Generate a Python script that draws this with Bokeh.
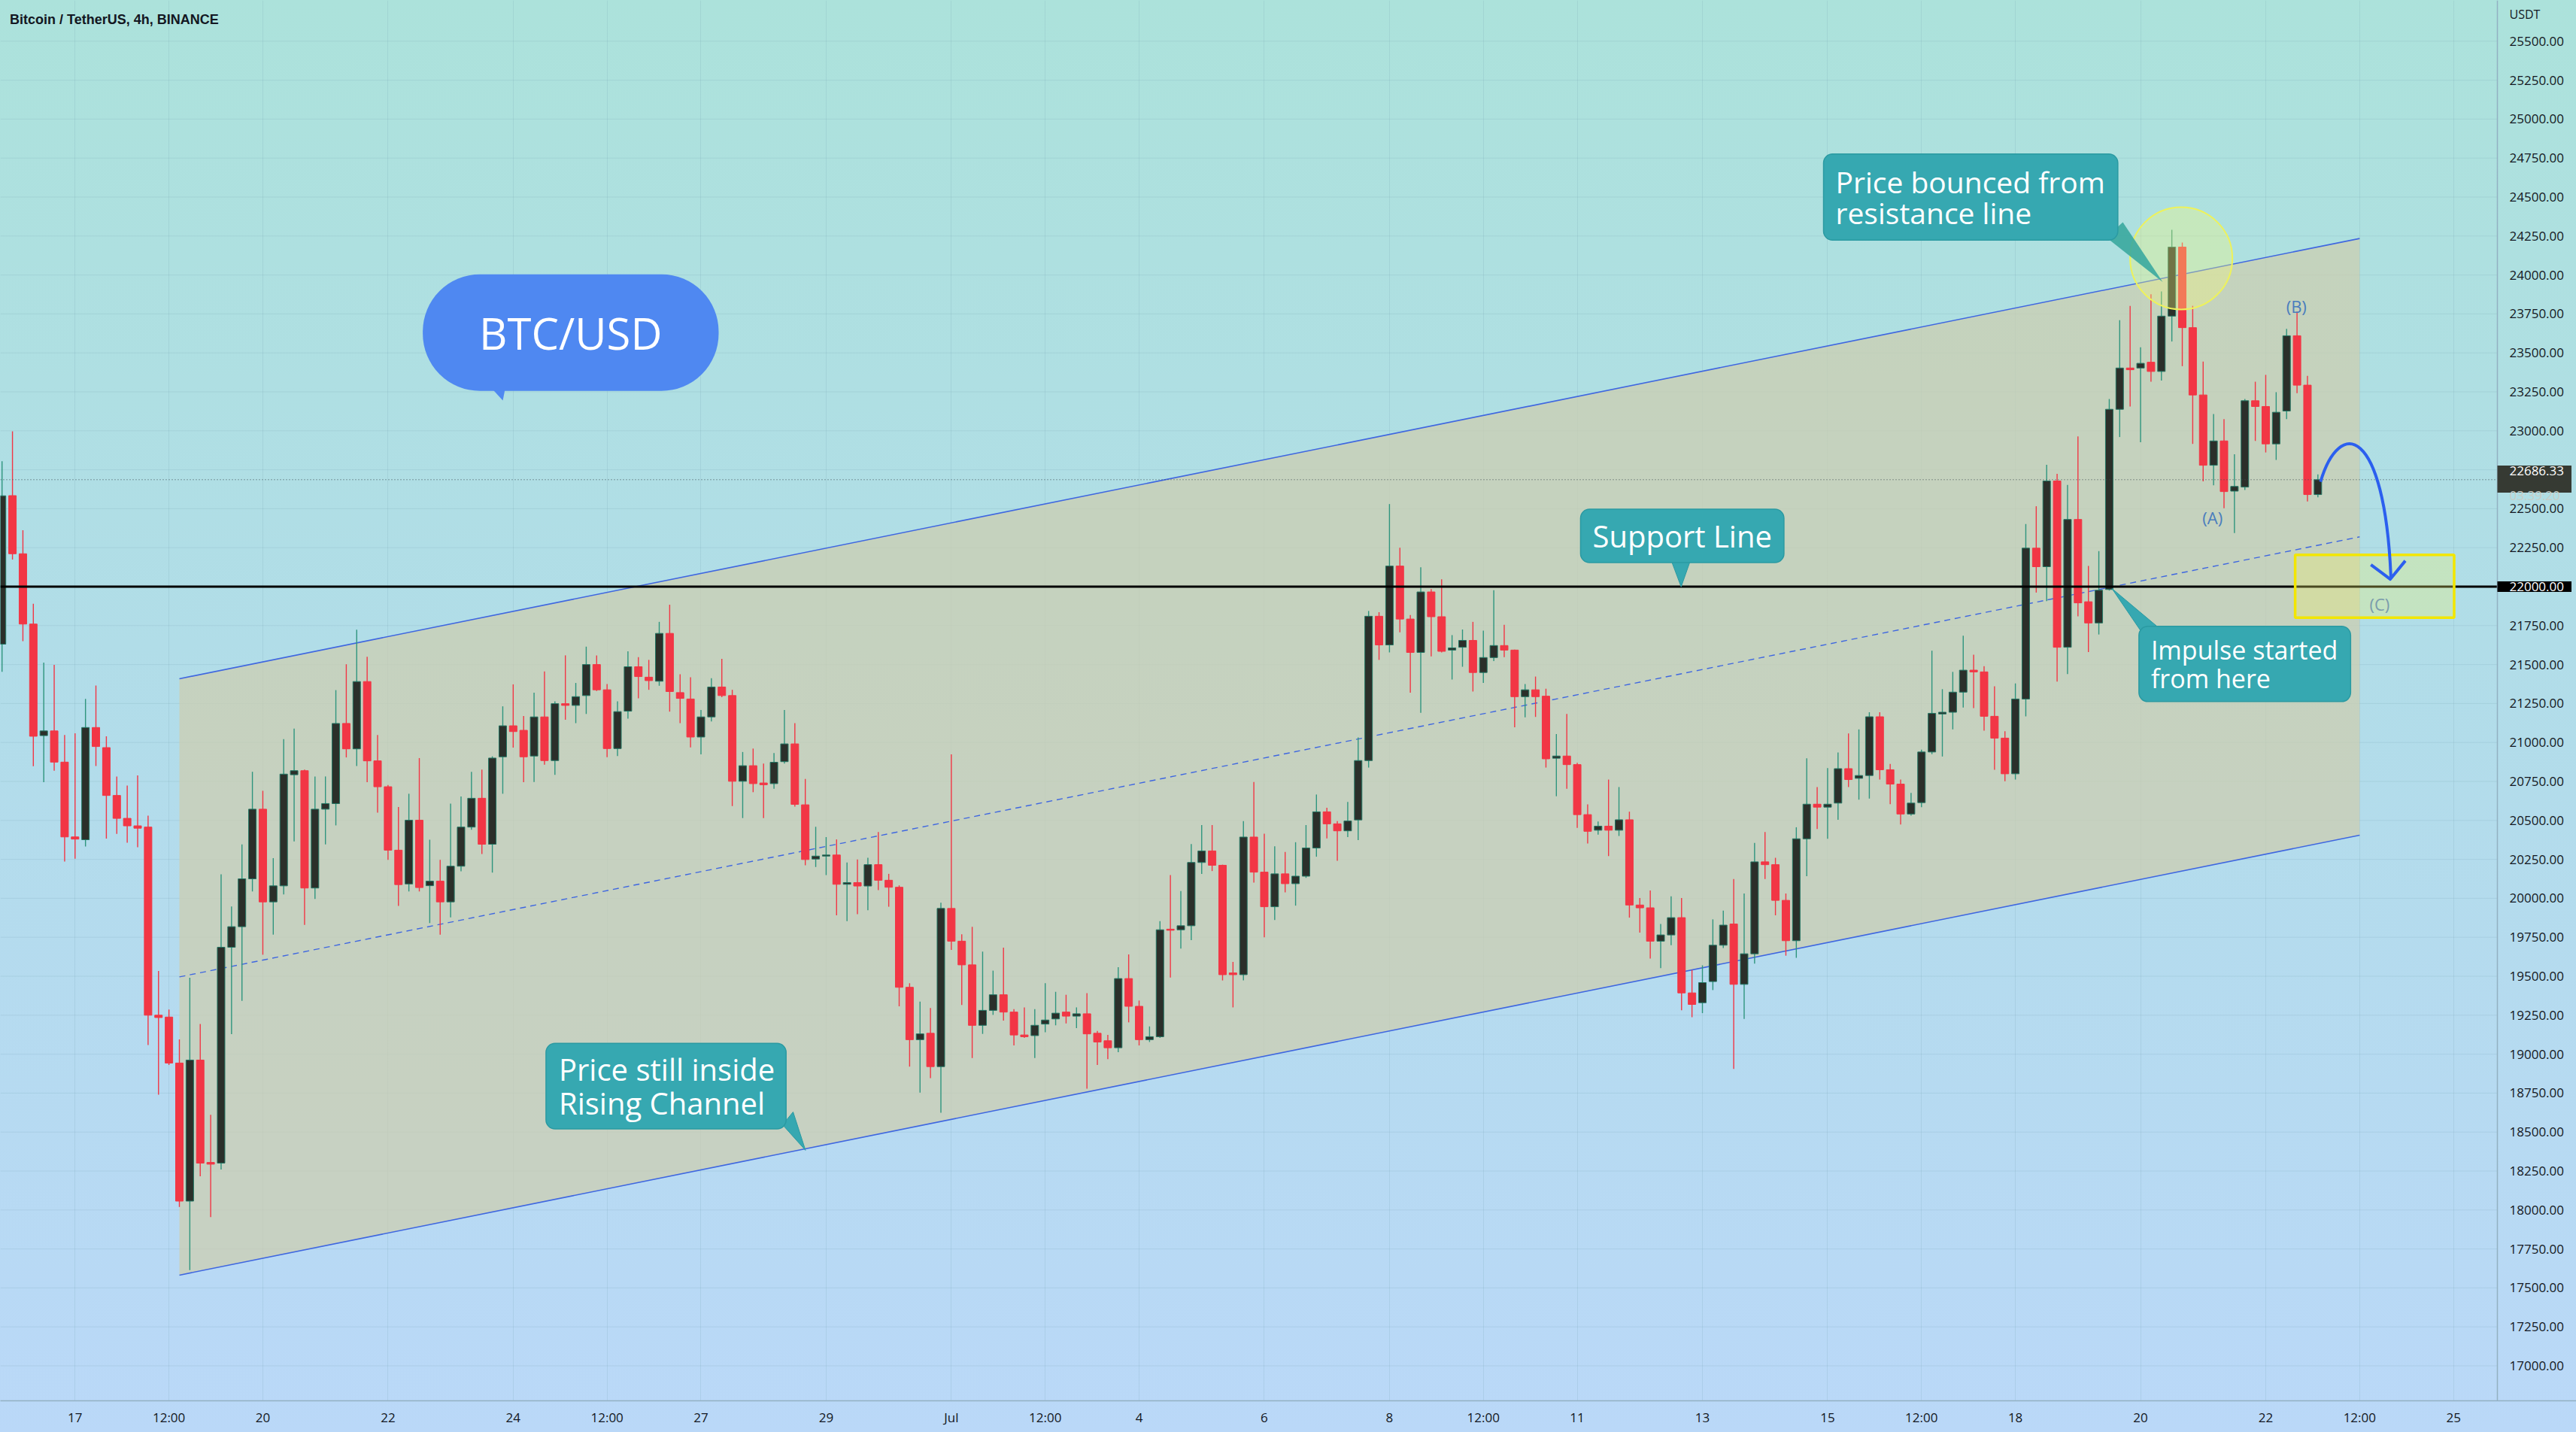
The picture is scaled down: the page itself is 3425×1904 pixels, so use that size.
import pandas as pd
from bokeh.plotting import figure
from bokeh.models import ColumnDataSource, FixedTicker, Range1d, Label, Span, PrintfTickFormatter
from bokeh.embed import file_html
from bokeh.resources import INLINE

# ---------------- data ----------------
bar_start = "2022-06-15 20:00"   # first 4h candle
axis_origin = "2022-06-17 00:00"  # x = days since this moment

opens = [
    21631, 22584, 22211, 21760, 21044, 21074, 20874, 20394, 20376, 21096,
    20967, 20660, 20513, 20465, 20457, 19250, 19238, 18943, 18057, 18962,
    18305, 18301, 19686, 19818, 20125, 20572, 19977, 20080, 20793, 20819,
    20066, 20572, 20608, 21122, 20959, 21391, 20882, 20716, 20309, 20092,
    20501, 20081, 20110, 19977, 20206, 20457, 20642, 20347, 20908, 21107,
    21078, 20913, 21164, 20884, 21249, 21238, 21301, 21500, 21338, 20961,
    21201, 21486, 21419, 21393, 21700, 21320, 21279, 21035, 21164, 21356,
    21301, 20751, 20851, 20740, 20736, 20877, 20991, 20600, 20252, 20271,
    20278, 20090, 20101, 20079, 20216, 20116, 20071, 19429, 19093, 19134,
    18920, 19935, 19725, 19573, 19185, 19281, 19381, 19270, 19123, 19119,
    19193, 19226, 19270, 19244, 19259, 19134, 19086, 19041, 19485, 19307,
    19093, 19112, 19802, 19798, 19824, 20230, 20304, 20212, 19521, 19510,
    20393, 20168, 19946, 20157, 20094, 20142, 20323, 20555, 20478, 20433,
    20503, 20884, 21810, 21626, 22132, 21792, 21578, 21966, 21807, 21593,
    21611, 21655, 21449, 21545, 21622, 21593, 21294, 21338, 21297, 20899,
    20913, 20858, 20537, 20437, 20463, 20437, 20504, 19957, 19939, 19725,
    19765, 19876, 19393, 19330, 19466, 19699, 19835, 19448, 19644, 20234,
    20216, 19987, 19728, 20382, 20604, 20585, 20611, 20832, 20770, 20788,
    21165, 20825, 20733, 20541, 20614, 20939, 21183, 21194, 21323, 21464,
    21453, 21168, 21028, 20799, 21279, 22247, 22128, 22678, 21611, 22431,
    21903, 21767, 21982, 23138, 23403, 23403, 23440, 23381, 23736, 24179,
    23662, 23230, 22779, 22935, 22613, 22639, 23193, 23156, 22916, 23127,
    23610, 23293, 22591,
]
highs = [
    22805, 22997, 22362, 21890, 21513, 21498, 21048, 21059, 21280, 21365,
    21040, 20782, 20723, 20789, 20531, 19534, 19287, 19095, 19490, 19194,
    18611, 20154, 19948, 20346, 20812, 20690, 20258, 21022, 21089, 20826,
    20782, 20782, 21336, 21502, 21724, 21550, 21048, 20727, 20586, 20671,
    20900, 20376, 20247, 20608, 20653, 20812, 20826, 20911, 21232, 21373,
    21170, 21319, 21456, 21264, 21559, 21382, 21615, 21559, 21375, 21264,
    21585, 21548, 21530, 21774, 21884, 21438, 21419, 21209, 21412, 21537,
    21338, 20939, 20961, 20865, 20932, 21209, 21124, 20766, 20459, 20393,
    20378, 20230, 20249, 20260, 20426, 20157, 20083, 19455, 19337, 19296,
    19972, 20924, 19769, 19817, 19658, 19536, 19684, 19289, 19300, 19289,
    19455, 19400, 19381, 19300, 19392, 19149, 19123, 19558, 19640, 19344,
    19178, 19854, 20149, 20046, 20348, 20470, 20470, 20216, 19592, 20496,
    20747, 20415, 20334, 20297, 20360, 20470, 20666, 20581, 20496, 20618,
    21032, 21844, 21836, 22530, 22250, 21818, 22124, 21984, 22047, 21689,
    21725, 21774, 21718, 21977, 21755, 21596, 21375, 21423, 21345, 21054,
    21183, 20870, 20603, 20493, 20762, 20714, 20556, 20002, 20050, 19836,
    20013, 20002, 19540, 19570, 19865, 19921, 20124, 20031, 20356, 20426,
    20260, 20031, 20456, 20899, 20714, 20836, 20936, 21058, 21084, 21194,
    21194, 20862, 20762, 20677, 20954, 21589, 21342, 21453, 21685, 21563,
    21490, 21360, 21072, 21379, 22402, 22516, 22782, 22724, 22653, 22964,
    22133, 22228, 23204, 23710, 23802, 23536, 23876, 23894, 24290, 24208,
    23802, 23444, 23108, 23075, 22850, 23204, 23315, 23359, 23248, 23654,
    23765, 23352, 22720,
]
lows = [
    21454, 22174, 21650, 20848, 20745, 20819, 20236, 20254, 20332, 20849,
    20383, 20413, 20357, 20328, 19058, 18740, 18930, 18020, 17614, 18216,
    17954, 18260, 19128, 19342, 20044, 19638, 19767, 20025, 20365, 19830,
    19996, 20346, 20468, 20904, 20849, 20745, 20550, 20247, 19951, 20044,
    20044, 19841, 19767, 19878, 20173, 20440, 20284, 20165, 20671, 20967,
    20745, 20747, 20858, 20792, 21146, 21124, 21183, 21330, 20906, 20913,
    21153, 21283, 21338, 21364, 21198, 21124, 20969, 20924, 21135, 21290,
    20592, 20515, 20681, 20515, 20703, 20865, 20588, 20212, 20201, 20149,
    19891, 19854, 19898, 19924, 20053, 19946, 19307, 18920, 18753, 18846,
    18624, 19669, 19315, 18975, 19130, 19252, 19215, 19056, 19104, 18975,
    19141, 19185, 19197, 19167, 18779, 18931, 18968, 19012, 19204, 19056,
    19078, 19104, 19492, 19677, 19732, 20157, 20175, 19473, 19300, 19473,
    20101, 19750, 19861, 20038, 19953, 20131, 20267, 20385, 20241, 20393,
    20374, 20839, 21530, 21578, 21707, 21319, 21190, 21552, 21578, 21404,
    21486, 21327, 21382, 21522, 21548, 21098, 21161, 21164, 20839, 20655,
    20703, 20452, 20352, 20408, 20271, 20400, 19876, 19780, 19614, 19552,
    19699, 19282, 19237, 19263, 19411, 19681, 18905, 19226, 19581, 20124,
    19891, 19632, 19618, 20142, 20445, 20382, 20504, 20714, 20633, 20640,
    20762, 20604, 20474, 20530, 20585, 20925, 20910, 21084, 21224, 21220,
    21076, 20825, 20751, 20762, 21168, 21962, 21907, 21391, 21439, 21809,
    21580, 21693, 21975, 22960, 23156, 22927, 23315, 23322, 23573, 23415,
    22916, 22676, 22650, 22503, 22344, 22620, 22935, 22861, 22813, 23075,
    23241, 22547, 22573,
]
closes = [
    22583, 22211, 21760, 21040, 21074, 20874, 20394, 20380, 21096, 20974,
    20660, 20513, 20465, 20450, 19250, 19235, 18943, 18057, 18962, 18301,
    18294, 19686, 19818, 20125, 20572, 19977, 20080, 20797, 20819, 20066,
    20572, 20608, 21122, 20959, 21391, 20882, 20716, 20309, 20088, 20501,
    20069, 20110, 19977, 20206, 20457, 20642, 20347, 20900, 21107, 21070,
    20908, 21164, 20884, 21249, 21238, 21294, 21500, 21338, 20961, 21198,
    21486, 21423, 21397, 21700, 21327, 21283, 21035, 21164, 21356, 21301,
    20751, 20851, 20736, 20729, 20873, 20991, 20603, 20249, 20271, 20278,
    20090, 20101, 20079, 20216, 20116, 20071, 19429, 19093, 19130, 18920,
    19935, 19725, 19573, 19185, 19281, 19381, 19270, 19123, 19112, 19185,
    19219, 19263, 19244, 19259, 19130, 19078, 19041, 19485, 19307, 19093,
    19112, 19798, 19795, 19824, 20230, 20304, 20212, 19510, 19510, 20393,
    20168, 19946, 20157, 20094, 20142, 20323, 20555, 20478, 20433, 20496,
    20884, 21810, 21626, 22132, 21792, 21578, 21966, 21807, 21585, 21607,
    21655, 21449, 21545, 21622, 21593, 21294, 21338, 21294, 20895, 20913,
    20858, 20537, 20430, 20463, 20437, 20504, 19957, 19939, 19725, 19765,
    19876, 19393, 19319, 19459, 19699, 19828, 19448, 19644, 20234, 20216,
    19987, 19728, 20382, 20604, 20585, 20604, 20832, 20762, 20788, 21165,
    20825, 20733, 20541, 20611, 20939, 21187, 21194, 21323, 21464, 21453,
    21168, 21028, 20799, 21279, 22247, 22128, 22678, 21611, 22431, 21896,
    21767, 21977, 23138, 23403, 23392, 23433, 23381, 23736, 24179, 23662,
    23230, 22779, 22935, 22610, 22643, 23193, 23156, 22916, 23119, 23610,
    23293, 22591, 22686.33,
]

last_price = 22686.33
countdown = "03:39:20"
support_level = 22000

x_ticks = [0, 1.5, 3, 5, 7, 8.5, 10, 12, 14, 15.5, 17, 19, 21, 22.5, 24, 26, 28, 29.5, 31, 33, 35, 36.5, 38]
x_tick_labels = ["17", "12:00", "20", "22", "24", "12:00", "27", "29", "Jul", "12:00", "4", "6",
                 "8", "12:00", "11", "13", "15", "12:00", "18", "20", "22", "12:00", "25"]
y_ticks = list(range(17000, 25501, 250))

# rising channel anchors (days, price)
channel_x = [1.667, 36.5]
channel_upper = [21409, 24234]
channel_lower = [17582, 20405]

# ---------------- prep ----------------
times = pd.date_range(bar_start, periods=len(opens), freq="4h")
xs = list((times - pd.Timestamp(axis_origin)) / pd.Timedelta(days=1))
up = [c >= o for o, c in zip(opens, closes)]

def sub(mask):
    return ColumnDataSource(dict(
        x=[x for x, m in zip(xs, mask) if m],
        o=[v for v, m in zip(opens, mask) if m],
        c=[v for v, m in zip(closes, mask) if m],
        h=[v for v, m in zip(highs, mask) if m],
        l=[v for v, m in zip(lows, mask) if m],
    ))

src_up = sub(up)
src_dn = sub([not u for u in up])

FONT = "Open Sans"
X0, X_SCALE_END, X_END = -1.1932, 38.701, 39.963   # chart area ends at X_SCALE_END; price scale lives beyond it
GRAD = "linear-gradient(180deg, #ace2db 0%, #b1dde8 45%, #bad8f8 100%)"

p = figure(frame_width=3425, frame_height=1862,
           x_range=Range1d(X0, X_END), y_range=Range1d(16775.6, 25762.1),
           output_backend="svg", toolbar_location=None, y_axis_location="right",
           min_border_left=0, min_border_top=0, min_border_right=0, min_border_bottom=42,
           title=None)
p.outline_line_color = None
p.background_fill_color = None
p.border_fill_color = None
p.styles = {"background": GRAD}

# axes
p.xaxis.ticker = FixedTicker(ticks=x_ticks)
p.xaxis.major_label_overrides = {t: s for t, s in zip(x_ticks, x_tick_labels)}
p.yaxis.ticker = FixedTicker(ticks=y_ticks)
p.yaxis.formatter = PrintfTickFormatter(format="%.2f")
for ax in (p.xaxis[0], p.yaxis[0]):
    ax.major_label_text_font = FONT
    ax.major_label_text_font_size = "17px"
    ax.major_label_text_color = "#131722"
    ax.major_tick_line_color = None
    ax.minor_tick_line_color = None
    ax.major_tick_out = 0
    ax.major_tick_in = 0
p.xaxis.axis_line_color = "#93b1c2"
p.xaxis.axis_line_width = 1.5
p.yaxis.axis_line_color = None
p.yaxis.major_label_standoff = -89      # price labels sit in the scale strip at the right
p.xaxis.major_label_standoff = 10

# price-scale separator
p.add_layout(Span(location=X_SCALE_END, dimension="height", line_color="#93b1c2", line_width=1.5))

p.xgrid.grid_line_color = "#6f9aae"
p.xgrid.grid_line_alpha = 0.18
p.ygrid.visible = False
p.segment(x0=X0, x1=X_SCALE_END, y0=y_ticks, y1=y_ticks, line_color="#6f9aae", line_alpha=0.18, line_width=1)

# channel
ch_xs = [channel_x[0], channel_x[1], channel_x[1], channel_x[0]]
ch_ys = [channel_upper[0], channel_upper[1], channel_lower[1], channel_lower[0]]
p.patch(ch_xs, ch_ys, fill_color="#cdcdae", fill_alpha=0.72, line_color=None)
p.line(channel_x, channel_upper, line_color="#3f67e0", line_width=1.6)
p.line(channel_x, channel_lower, line_color="#3f67e0", line_width=1.6)
channel_mid = [(a + b) / 2 for a, b in zip(channel_upper, channel_lower)]
p.line(channel_x, channel_mid, line_color="#3f67e0", line_width=1.4, line_dash="8 6")

# candles
UP_BODY = "#2b2f2a"
UP_WICK = "#2f957e"
DN = "#f23645"
W = 0.12
p.segment(x0="x", y0="l", x1="x", y1="h", source=src_up, line_color=UP_WICK, line_width=1.4)
p.segment(x0="x", y0="l", x1="x", y1="h", source=src_dn, line_color=DN, line_width=1.4)
p.vbar(x="x", width=W, bottom="o", top="c", source=src_up, fill_color=UP_BODY, line_color="#237563", line_width=1)
p.vbar(x="x", width=W, bottom="c", top="o", source=src_dn, fill_color=DN, line_color=DN, line_width=1)

# horizontal levels (chart area only)
p.line([X0, X_SCALE_END], [last_price, last_price], line_color="#3d4a50", line_width=1, line_dash="1 3")
p.line([X0, X_SCALE_END], [support_level, support_level], line_color="black", line_width=3)

# yellow circle at the rejection, yellow target box
p.scatter([33.65], [24107], size=136, marker="circle", fill_color="#f4f57a", fill_alpha=0.35,
          line_color="#eef25a", line_width=2)
p.quad(left=[35.47], right=[38.01], top=[22204], bottom=[21801], fill_color="#f3f36a", fill_alpha=0.3,
       line_color="#f2e600", line_width=3.5)

# wave labels
for txt, x, y, col in [("(A)", 34.15, 22446, "#4a7dbd"), ("(B)", 35.49, 23802, "#4a7dbd"), ("(C)", 36.82, 21891, "#7a9bac")]:
    p.add_layout(Label(x=x, y=y, text=txt, text_font=FONT, text_font_size="22px", text_color=col,
                       text_align="center", text_baseline="middle"))

# projected path arrow
p.bezier(x0=[35.875], y0=[22673], x1=[37.0], y1=[22060], cx0=[36.177], cy0=[23083], cx1=[36.898], cy1=[23035],
         line_color="#2b5fef", line_width=4)
p.line([36.68, 36.99, 37.23], [22141, 22048, 22166], line_color="#2b5fef", line_width=4, line_join="round")

# callout tails
TEAL = "#36a8b1"
p.patch([6.617, 6.834, 6.882], [23290, 23194, 23290], fill_color="#4f88f1", line_color=None)
p.patch([32.45, 32.717, 33.354], [24242, 24338, 23955], fill_color="#3aa89e", fill_alpha=0.9, line_color=None)
p.patch([25.50, 25.81, 25.66], [22170, 22170, 21999], fill_color=TEAL, line_color="#2a9aa2")
p.patch([33.0, 33.317, 32.543], [21718, 21727, 21988], fill_color=TEAL, line_color="#2a9aa2")
p.patch([11.304, 11.472, 11.670], [18547, 18629, 18383], fill_color=TEAL, line_color="#2a9aa2")

def callout(text, x, y, size, pad, lh=1.0):
    p.add_layout(Label(x=x, y=y, text=text, text_font=FONT, text_font_size=f"{size}px", text_color="white",
                       text_align="left", text_baseline="middle", text_line_height=lh,
                       background_fill_color=TEAL, border_line_color="#2a9aa2", border_line_width=1.5,
                       border_radius=12, padding=pad))

callout("Price bounced from\nresistance line", 27.935, 24500, 39, dict(left=16, right=17, top=10, bottom=10), lh=0.785)
callout("Support Line", 24.053, 22326, 40, dict(left=16, right=16, top=8, bottom=8))
callout("Impulse started\nfrom here", 32.974, 21504, 34, dict(left=16, right=17, top=8, bottom=8), lh=0.83)
callout("Price still inside\nRising Channel", 7.524, 18795, 40, dict(left=17, right=15, top=7, bottom=7), lh=0.813)

p.add_layout(Label(x=7.919, y=23630, text="BTC/USD", text_font=FONT, text_font_size="58px", text_color="white",
                   text_align="center", text_baseline="middle", background_fill_color="#4f88f1",
                   border_radius=76, padding=dict(left=75, right=75, top=38, bottom=38)))

# header
p.add_layout(Label(x=-1.0418, y=25641, text="Bitcoin / TetherUS, 4h, BINANCE", text_font="Liberation Sans",
                   text_font_style="bold", text_font_size="18px", text_color="#131722",
                   text_align="left", text_baseline="middle"))

# price-scale extras
p.add_layout(Label(x=38.894, y=25675, text="USDT", text_font=FONT, text_font_size="16px", text_color="#131722",
                   text_align="left", text_baseline="middle"))
p.add_layout(Label(x=X_SCALE_END, y=support_level, text=f"{support_level:.2f}", text_font=FONT, text_font_size="17px",
                   text_color="white", text_align="left", text_baseline="middle", background_fill_color="black",
                   padding=dict(left=16, right=10, top=1, bottom=1)))
p.add_layout(Label(x=X_SCALE_END, y=22690.6, text=f"{last_price:.2f}", text_font=FONT, text_font_size="17px",
                   text_color="white", text_align="left", text_baseline="middle", background_fill_color="#363a33",
                   padding=dict(left=16, right=10, top=1, bottom=23)))
p.add_layout(Label(x=38.894, y=22588, text=countdown, text_font=FONT, text_font_size="17px",
                   text_color="#c9cdc6", text_align="left", text_baseline="middle"))

html = file_html(p, INLINE, title="BTC/USD")
html = html.replace("</head>", "<style>html,body{margin:0;padding:0;background:%s;}</style></head>" % GRAD, 1)
open("out.html", "w").write(html)
